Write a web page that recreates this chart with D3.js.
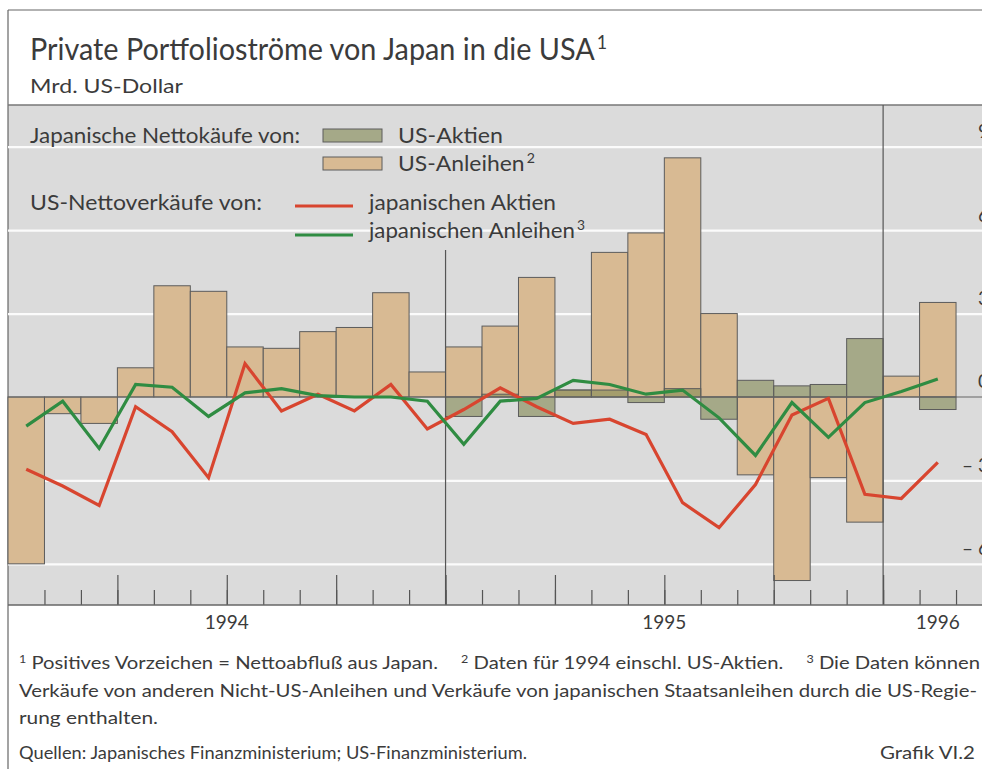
<!DOCTYPE html>
<html>
<head>
<meta charset="utf-8">
<script src="https://cdn.jsdelivr.net/npm/d3@7"></script>
<style>
  body { margin: 0; background: #fff; }
  svg { display: block; font-family: Lato, "Open Sans", sans-serif; }
</style>
</head>
<body>
<div id="chart"></div>
<script>
// Monthly values, Jan 1994 - Feb 1996, Mrd. US-Dollar
var months = ["1994-01","1994-02","1994-03","1994-04","1994-05","1994-06","1994-07","1994-08","1994-09","1994-10","1994-11","1994-12",
              "1995-01","1995-02","1995-03","1995-04","1995-05","1995-06","1995-07","1995-08","1995-09","1995-10","1995-11","1995-12",
              "1996-01","1996-02"];
// axis runs one month further than the data
var axisMonths = months.concat(["1996-03"]);

// Japanische Nettokäufe von US-Anleihen (1994 incl. US-Aktien)
var usAnleihen = [-6.0, -0.6, -0.95, 1.05, 4.0, 3.8, 1.8, 1.75, 2.35, 2.5, 3.75, 0.9,
                  1.8, 2.55, 4.3, 0.25, 5.2, 5.9, 8.6, 3.0, -2.8, -6.6, -2.9, -4.5,
                  0.75, 3.4];
// Japanische Nettokäufe von US-Aktien (from 1995 only)
var usAktien = [null, null, null, null, null, null, null, null, null, null, null, null,
                -0.7, 0.1, -0.7, 0.25, 0.25, -0.2, 0.3, -0.8, 0.6, 0.4, 0.45, 2.1,
                0, -0.45];
// US-Nettoverkäufe von japanischen Aktien
var jpAktien = [-2.6, -3.2, -3.9, -0.35, -1.25, -2.9, 1.2, -0.5, 0.1, -0.5, 0.45, -1.15,
                -0.45, 0.33, -0.35, -0.95, -0.8, -1.35, -3.8, -4.7, -3.15, -0.65, -0.05, -3.5,
                -3.65, -2.35];
// US-Nettoverkäufe von japanischen Anleihen
var jpAnleihen = [-1.05, -0.15, -1.85, 0.45, 0.35, -0.7, 0.15, 0.3, 0.05, 0, 0, -0.15,
                  -1.7, -0.15, -0.05, 0.6, 0.45, 0.1, 0.25, -0.75, -2.1, -0.2, -1.45, -0.2,
                  0.2, 0.65];

var yTicks = [-6, -3, 0, 3, 6, 9];

var W = 982, H = 769;
var plot = {left: 8, right: 992.5, top: 105, bottom: 605};
var textColor = "#3b3b3b";
var col = {panel: "#dbdbdb", tan: "#d8ba93", olive: "#858a55", red: "#d8452f", green: "#2f8c42", edge: "#5c5c5c"};

var svg = d3.select("#chart").append("svg")
    .attr("width", W)
    .attr("height", H);

// scales
var x = d3.scaleBand()
    .domain(axisMonths)
    .range([plot.left, plot.right])
    .padding(0);
var xi = d3.scaleLinear()
    .domain([0, axisMonths.length])
    .range([plot.left, plot.right]);
var y = d3.scaleLinear()
    .domain([-7.48, 10.5])
    .range([plot.bottom, plot.top]);

// text helper: parts = [[text, isSup], ...]
function addText(px, py, size, parts, fit, anchor) {
    var t = svg.append("text")
        .attr("x", px)
        .attr("y", py)
        .attr("fill", textColor)
        .style("font-size", size + "px")
        .style("white-space", "pre")
        .attr("text-anchor", anchor || "start");
    var shift = 0;
    parts.forEach(function(p, i) {
        var s = t.append("tspan").text(p[0]);
        if (p[1]) {
            s.style("font-size", (size * 0.62) + "px").attr("dy", -size * 0.38 - shift);
            if (i > 0) s.attr("dx", 2);
            shift = -size * 0.38;
        } else if (shift !== 0) {
            s.attr("dy", -shift);
            shift = 0;
        }
    });
    if (fit) t.attr("textLength", fit).attr("lengthAdjust", "spacingAndGlyphs");
    return t;
}

// frame
svg.append("rect")
    .attr("x", plot.left).attr("y", plot.top)
    .attr("width", W - plot.left).attr("height", plot.bottom - plot.top)
    .attr("fill", col.panel);
svg.append("line").attr("x1", plot.left).attr("x2", W).attr("y1", 10).attr("y2", 10)
    .attr("stroke", "#666").attr("stroke-width", 1.2);
svg.append("line").attr("x1", plot.left).attr("x2", plot.left).attr("y1", 10).attr("y2", H)
    .attr("stroke", "#666").attr("stroke-width", 1.2);
svg.append("line").attr("x1", plot.left).attr("x2", W).attr("y1", plot.top).attr("y2", plot.top)
    .attr("stroke", "#777").attr("stroke-width", 1.4);

// white gridlines
svg.append("g")
    .attr("transform", "translate(" + plot.left + ",0)")
    .call(d3.axisRight(y).tickValues(yTicks.filter(function(v) { return v !== 0; }))
        .tickSize(W - plot.left).tickFormat(""))
    .call(function(g) {
        g.select(".domain").remove();
        g.selectAll("line").attr("stroke", "#fbfbfb").attr("stroke-width", 2.2);
    });

// US-Anleihen bars
svg.append("g").selectAll("rect")
    .data(months.map(function(m, i) { return {m: m, v: usAnleihen[i]}; }))
    .enter().append("rect")
    .attr("x", function(d) { return x(d.m); })
    .attr("width", x.bandwidth())
    .attr("y", function(d) { return y(Math.max(0, d.v)); })
    .attr("height", function(d) { return Math.abs(y(d.v) - y(0)); })
    .attr("fill", col.tan)
    .attr("stroke", col.edge)
    .attr("stroke-width", 1);

// US-Aktien bars (translucent, over the bond bars)
svg.append("g").selectAll("rect")
    .data(months.map(function(m, i) { return {m: m, v: usAktien[i]}; })
        .filter(function(d) { return d.v !== null; }))
    .enter().append("rect")
    .attr("x", function(d) { return x(d.m); })
    .attr("width", x.bandwidth())
    .attr("y", function(d) { return y(Math.max(0, d.v)); })
    .attr("height", function(d) { return Math.abs(y(d.v) - y(0)); })
    .attr("fill", col.olive)
    .attr("fill-opacity", 0.62)
    .attr("stroke", col.edge)
    .attr("stroke-width", 1);

// zero line
svg.append("line")
    .attr("x1", plot.left).attr("x2", W)
    .attr("y1", y(0)).attr("y2", y(0))
    .attr("stroke", "#666").attr("stroke-width", 1.2);

// year separators
var yearStarts = axisMonths.filter(function(m, i) { return i > 0 && m.slice(5) === "01"; });
svg.append("g").selectAll("line")
    .data(yearStarts)
    .enter().append("line")
    .attr("x1", function(m) { return x(m); })
    .attr("x2", function(m) { return x(m); })
    .attr("y1", function(m, i) { return i === 0 ? 250 : plot.top; })
    .attr("y2", plot.bottom)
    .attr("stroke", "#555").attr("stroke-width", 1.2);

// x axis: month ticks and quarter ticks
var monthIdx = d3.range(1, axisMonths.length);
svg.append("g")
    .attr("transform", "translate(0," + plot.bottom + ")")
    .call(d3.axisTop(xi).tickValues(monthIdx).tickSize(15).tickFormat(""))
    .call(function(g) {
        g.select(".domain").remove();
        g.selectAll("line").attr("stroke", "#555").attr("stroke-width", 1.2);
    });
svg.append("g")
    .attr("transform", "translate(0," + plot.bottom + ")")
    .call(d3.axisTop(xi).tickValues(monthIdx.filter(function(i) { return i % 3 === 0; }))
        .tickSize(30).tickFormat(""))
    .call(function(g) {
        g.select(".domain").remove();
        g.selectAll("line").attr("stroke", "#555").attr("stroke-width", 1.2);
    });
svg.append("line")
    .attr("x1", plot.left).attr("x2", W)
    .attr("y1", plot.bottom).attr("y2", plot.bottom)
    .attr("stroke", "#666").attr("stroke-width", 1.4);

// year labels centred under each year's months
var yearGroups = d3.groups(axisMonths, function(m) { return m.slice(0, 4); });
yearGroups.forEach(function(g) {
    var first = g[1][0], last = g[1][g[1].length - 1];
    var cx = (x(first) + x(last) + x.bandwidth()) / 2;
    addText(cx, 629, 19, [[g[0]]], null, "middle");
});

// y labels at right edge (cut by the page edge, as in the original)
svg.append("g")
    .attr("transform", "translate(989,0)")
    .call(d3.axisLeft(y).tickValues(yTicks).tickSize(0).tickPadding(0)
        .tickFormat(function(v) { return v < 0 ? "\u2013 " + Math.abs(v) : v; }))
    .call(function(g) {
        g.select(".domain").remove();
        g.selectAll("text")
            .attr("y", -9).attr("dy", 0)
            .attr("fill", textColor)
            .style("font-size", "19px")
            .style("font-family", "Lato, sans-serif");
    });

// lines
var line = d3.line()
    .x(function(d) { return x(d.m) + x.bandwidth() / 2; })
    .y(function(d) { return y(d.v); });
svg.append("path")
    .datum(months.map(function(m, i) { return {m: m, v: jpAktien[i]}; }))
    .attr("d", line)
    .attr("fill", "none")
    .attr("stroke", col.red)
    .attr("stroke-width", 3.2)
    .attr("stroke-linejoin", "miter");
svg.append("path")
    .datum(months.map(function(m, i) { return {m: m, v: jpAnleihen[i]}; }))
    .attr("d", line)
    .attr("fill", "none")
    .attr("stroke", col.green)
    .attr("stroke-width", 3.2)
    .attr("stroke-linejoin", "miter");

// legend
addText(30, 143, 21, [["Japanische Nettokäufe von:"]], 270);
addText(30, 210, 21, [["US-Nettoverkäufe von:"]], 232);
svg.append("rect").attr("x", 323).attr("y", 129).attr("width", 59).attr("height", 13)
    .attr("fill", col.panel).attr("stroke", "none");
svg.append("rect").attr("x", 323).attr("y", 129).attr("width", 59).attr("height", 13)
    .attr("fill", col.olive).attr("fill-opacity", 0.62).attr("stroke", col.edge);
svg.append("rect").attr("x", 323).attr("y", 157).attr("width", 59).attr("height", 13)
    .attr("fill", col.tan).attr("stroke", col.edge);
addText(398, 143, 21, [["US-Aktien"]], 105);
addText(398, 171, 21, [["US-Anleihen"], ["2", true]], 137);
svg.append("line").attr("x1", 295).attr("x2", 353).attr("y1", 206).attr("y2", 206)
    .attr("stroke", col.red).attr("stroke-width", 3.2);
svg.append("line").attr("x1", 295).attr("x2", 353).attr("y1", 235).attr("y2", 235)
    .attr("stroke", col.green).attr("stroke-width", 3.2);
addText(369, 210, 21, [["japanischen Aktien"]], 187);
addText(369, 238, 21, [["japanischen Anleihen"], ["3", true]], 216);

// title block
addText(30, 60, 30, [["Private Portfolioströme von Japan in die USA"], ["1", true]], 577);
addText(30, 93, 19, [["Mrd. US-Dollar"]], 153);

// footnotes
addText(19, 669, 17, [["1", true], [" Positives Vorzeichen = Nettoabfluß aus Japan.    "], ["2", true],
    [" Daten für 1994 einschl. US-Aktien.    "], ["3", true], [" Die Daten können"]], 961);
addText(19, 697, 17, [["Verkäufe von anderen Nicht-US-Anleihen und Verkäufe von japanischen Staatsanleihen durch die US-Regie-"]], 958);
addText(19, 724, 17, [["rung enthalten."]], 139);
addText(19, 759, 17, [["Quellen: Japanisches Finanzministerium; US-Finanzministerium."]], 508);
addText(975, 759, 17, [["Grafik VI.2"]], 95, "end");
</script>
</body>
</html>
